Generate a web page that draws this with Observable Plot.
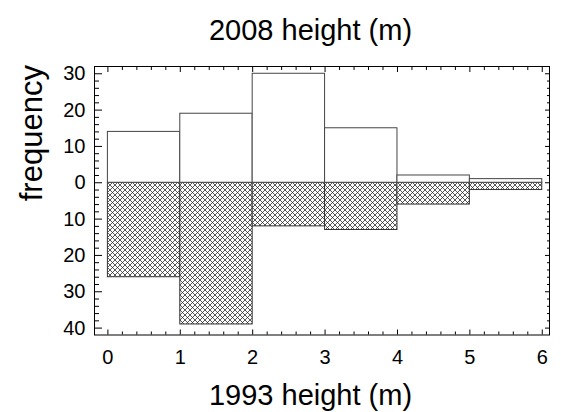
<!DOCTYPE html>
<html><head><meta charset="utf-8">
<script src="https://cdn.jsdelivr.net/npm/d3@7"></script>
<script src="https://cdn.jsdelivr.net/npm/@observablehq/plot@0.6"></script>
<style>body{margin:0;background:#fff}</style>
</head><body><div id="chart"></div>
<script>
const binStart = [0, 1, 2, 3, 4, 5];
const binEnd = [1, 2, 3, 4, 5, 6];
const freq2008 = [14, 19, 30, 15, 2, 1];
const freq1993 = [26, 39, 12, 13, 6, 2];
const yTicks = [-40, -30, -20, -10, 0, 10, 20, 30];
const xTicks = [0, 1, 2, 3, 4, 5, 6];
const titleTop = "2008 height (m)";
const titleBottom = "1993 height (m)";
const titleLeft = "frequency";

const rows2008 = binStart.map((x, i) => ({x1: x, x2: binEnd[i], y: freq2008[i]}));
const rows1993 = binStart.map((x, i) => ({x1: x, x2: binEnd[i], y: -freq1993[i]}));
const yMinor = d3.range(-40, 31, 2).filter(v => v % 10 !== 0);
const xMinor = d3.range(1, 30).filter(i => i % 5 !== 0).map(i => i / 5);

const hatchDefs = () => {
  const defs = d3.create("svg:defs");
  const p = defs.append("pattern").attr("id", "hatch")
    .attr("patternUnits", "userSpaceOnUse").attr("width", 5).attr("height", 5);
  p.append("rect").attr("width", 5).attr("height", 5).attr("fill", "white");
  p.append("path")
    .attr("d", "M0,0L5,5M-1,4L1,6M4,-1L6,1M5,0L0,5M-1,1L1,-1M4,6L6,4")
    .attr("stroke", "#222").attr("stroke-width", 0.75).attr("fill", "none");
  return defs.node();
};

const font = "'Liberation Sans', Arial, Helvetica, sans-serif";

const chart = Plot.plot({
  width: 561,
  height: 412,
  marginLeft: 94,
  marginRight: 12,
  marginTop: 66,
  marginBottom: 77.5,
  style: {fontFamily: font, fontSize: "20px", background: "white", color: "black"},
  x: {domain: [-0.185, 6.10]},
  y: {domain: [-41.9, 32]},
  marks: [
    hatchDefs,
    Plot.rectY(rows1993, {x1: "x1", x2: "x2", y1: 0, y2: "y", fill: "url(#hatch)", stroke: "#333", strokeWidth: 1}),
    Plot.rectY(rows2008, {x1: "x1", x2: "x2", y1: 0, y2: "y", fill: "white", stroke: "#444", strokeWidth: 1}),
    // left axis
    Plot.axisY(yTicks, {anchor: "left", tickSize: 0, tickPadding: 9, tickFormat: d => Math.abs(d), label: null}),
    Plot.axisY(yTicks, {anchor: "left", tickSize: -8, fill: "none", label: null}),
    Plot.axisY(yMinor, {anchor: "left", tickSize: -5, fill: "none", label: null}),
    // right axis
    Plot.axisY(yTicks, {anchor: "right", tickSize: -5, fill: "none", label: null}),
    Plot.axisY(yMinor, {anchor: "right", tickSize: -3, fill: "none", label: null}),
    // bottom axis
    Plot.axisX(xTicks, {anchor: "bottom", tickSize: 0, tickPadding: 15, label: null}),
    Plot.axisX(xTicks, {anchor: "bottom", tickSize: -5, fill: "none", label: null}),
    Plot.axisX(xMinor, {anchor: "bottom", tickSize: -3, fill: "none", label: null}),
    // top axis
    Plot.axisX(xTicks, {anchor: "top", tickSize: -5, fill: "none", label: null}),
    Plot.axisX(xMinor, {anchor: "top", tickSize: -3, fill: "none", label: null}),
    Plot.frame({stroke: "black", strokeWidth: 1}),
    Plot.text([titleTop], {frameAnchor: "top", text: d => d, dx: -11.5, dy: -27, lineAnchor: "bottom", fontSize: 29, fill: "black"}),
    Plot.text([titleBottom], {frameAnchor: "bottom", text: d => d, dx: -11.5, dy: 69.5, lineAnchor: "bottom", fontSize: 29, fill: "black"}),
    Plot.text([titleLeft], {frameAnchor: "left", text: d => d, dx: -53, dy: 0.5, rotate: -90, lineAnchor: "bottom", fontSize: 31, fill: "black"})
  ]
});
document.getElementById("chart").appendChild(chart);
</script>
</body></html>
